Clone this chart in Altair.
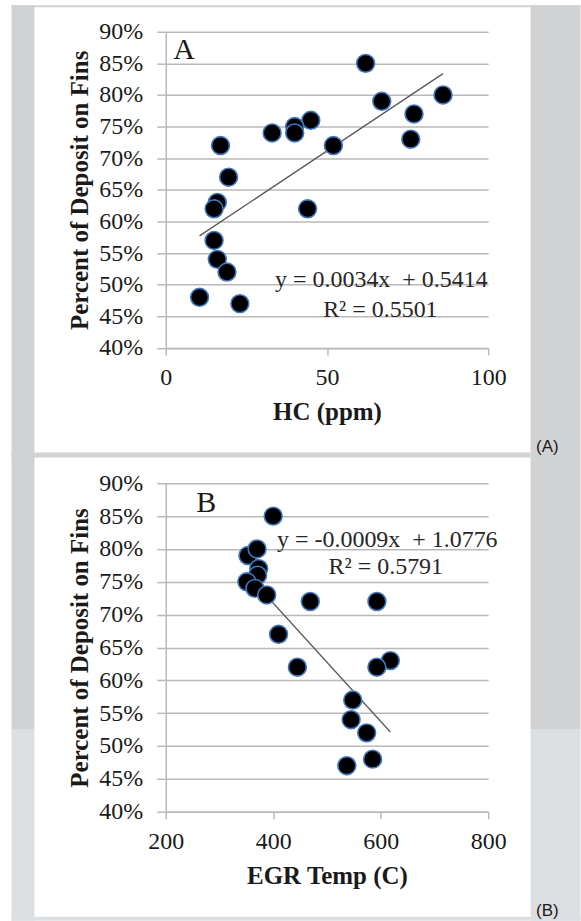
import altair as alt
import pandas as pd

# ---- data -------------------------------------------------------------
# Panel A: hydrocarbon concentration (ppm) vs share of deposit on fins
hc_ppm = [62, 67, 86, 77, 76, 52, 45, 40, 40, 33, 44, 17, 19.5, 16, 15, 15, 16, 19, 10.5, 23]
deposit_a = [0.85, 0.79, 0.80, 0.77, 0.73, 0.72, 0.76, 0.75, 0.74, 0.74,
             0.62, 0.72, 0.67, 0.63, 0.62, 0.57, 0.54, 0.52, 0.48, 0.47]

# Panel B: EGR temperature (C) vs share of deposit on fins
egr_temp = [400, 353, 370, 373, 371, 351, 366, 388, 469, 593, 410, 445, 618, 593, 548, 545, 574, 585, 537]
deposit_b = [0.85, 0.79, 0.80, 0.77, 0.76, 0.75, 0.74, 0.73, 0.72, 0.72,
             0.67, 0.62, 0.63, 0.62, 0.57, 0.54, 0.52, 0.48, 0.47]

# linear trendlines (slope, intercept) as printed on each panel
fit_a = (0.0034, 0.5414)
fit_b = (-0.0009, 1.0776)
eq_a = ["y = 0.0034x\u00a0 + 0.5414", "R\u00b2 = 0.5501"]
eq_b = ["y = -0.0009x\u00a0 + 1.0776", "R\u00b2 = 0.5791"]

pct_ticks = [0.40, 0.45, 0.50, 0.55, 0.60, 0.65, 0.70, 0.75, 0.80, 0.85, 0.90]
hc_ticks = [0, 50, 100]
temp_ticks = [200, 400, 600, 800]

# ---- styling ----------------------------------------------------------
SERIF = "Liberation Serif"
SANS = "Liberation Sans"
INK = "#1a1a1a"
GRID = "#b9b9b9"
DARK_BG = "#d1d2d4"
LIGHT_BG = "#dcdfe2"
W = 323
H_A = 316.7
H_B = 329
ORIGIN_X = 165.5
TOP_A = 30.5
TOP_B = 482.5


def y_axis():
    return alt.Axis(values=pct_ticks, format=".0%", title="Percent of Deposit on Fins",
                    grid=True, gridColor=GRID, gridWidth=1.5,
                    domainColor=GRID, domainWidth=1.5,
                    tickColor=GRID, tickWidth=1.5, tickSize=9,
                    labelFont=SERIF, labelFontSize=24, labelColor=INK, labelPadding=14,
                    titleFont=SERIF, titleFontSize=25, titleFontWeight="bold",
                    titleColor=INK, titlePadding=6)


def x_axis(title, ticks):
    return alt.Axis(values=ticks, title=title, grid=False,
                    domainColor=GRID, domainWidth=1.5,
                    tickColor=GRID, tickWidth=1.5, tickSize=7,
                    labelFont=SERIF, labelFontSize=24, labelColor=INK, labelPadding=11,
                    labelFlush=False, labelOverlap=False,
                    titleFont=SERIF, titleFontSize=25, titleFontWeight="bold",
                    titleColor=INK, titlePadding=10)


def band(x1, x2, y1, y2, color, top):
    """Page background strip, given in page pixels, drawn relative to a panel origin."""
    return alt.Chart(alt.Data(values=[{}])).mark_rect(color=color, strokeWidth=0).encode(
        x=alt.value(x1 - ORIGIN_X), x2=alt.value(x2 - ORIGIN_X),
        y=alt.value(y1 - top), y2=alt.value(y2 - top))


def label(text, x, y, top, size, font=SERIF, align="left", color=INK):
    return alt.Chart(alt.Data(values=[{}])).mark_text(
        text=text, font=font, fontSize=size, color=color, align=align,
        baseline="alphabetic").encode(x=alt.value(x - ORIGIN_X), y=alt.value(y - top))


def panel(xs, ys, fit, xfield, xtitle, xdomain, xticks, height):
    pts = pd.DataFrame({xfield: xs, "deposit": ys})
    lo, hi = min(xs), max(xs)
    trend = pd.DataFrame({xfield: [lo, hi],
                          "deposit": [fit[0] * lo + fit[1], fit[0] * hi + fit[1]]})
    xenc = alt.X(f"{xfield}:Q", scale=alt.Scale(domain=xdomain, nice=False, zero=False),
                 axis=x_axis(xtitle, xticks))
    yenc = alt.Y("deposit:Q", scale=alt.Scale(domain=[0.40, 0.90], nice=False, zero=False),
                 axis=y_axis())
    line = alt.Chart(trend).mark_line(color="#5a5a5a", strokeWidth=1.3).encode(x=xenc, y=yenc)
    dots = alt.Chart(pts).mark_circle(size=320, fill="black", stroke="#3f77c0",
                                      strokeWidth=1.6, opacity=1).encode(x=xenc, y=yenc)
    return line, dots


line_a, dots_a = panel(hc_ppm, deposit_a, fit_a, "hc", "HC (ppm)", [0, 100], hc_ticks, H_A)
line_b, dots_b = panel(egr_temp, deposit_b, fit_b, "temp", "EGR Temp (C)", [200, 800], temp_ticks, H_B)

# page frame: grey strips around the two white panels (drawn with panel A so they sit underneath)
frame = [
    band(0, 11, 0, 921, "white", TOP_A),
    band(0, 581, 0, 4, "white", TOP_A),
    band(11, 34, 4, 729, DARK_BG, TOP_A),
    band(11, 34, 729, 921, LIGHT_BG, TOP_A),
    band(11, 581, 4, 6, DARK_BG, TOP_A),
    band(11, 531, 452, 457, DARK_BG, TOP_A),
    band(531, 581, 4, 729, DARK_BG, TOP_A),
    band(531, 581, 729, 921, LIGHT_BG, TOP_A),
    band(11, 581, 917, 921, LIGHT_BG, TOP_A),
]

chart_a = alt.layer(
    *frame,
    line_a,
    dots_a,
    label("A", 173, 58.3, TOP_A, 30),
    label(eq_a[0], 381.5, 286.7, TOP_A, 24, align="center", color="#262626"),
    label(eq_a[1], 380.5, 316.7, TOP_A, 24, align="center", color="#262626"),
    label("(A)", 536.5, 451, TOP_A, 17, font=SANS),
).properties(width=W, height=H_A)

chart_b = alt.layer(
    line_b,
    dots_b,
    label("B", 196, 511.7, TOP_B, 30),
    label(eq_b[0], 387.5, 546.7, TOP_B, 24, align="center", color="#262626"),
    label(eq_b[1], 386, 573.3, TOP_B, 24, align="center", color="#262626"),
    label("(B)", 536.5, 916, TOP_B, 17, font=SANS),
).properties(width=W, height=H_B)

chart = alt.vconcat(
    chart_a, chart_b, spacing=TOP_B - TOP_A - H_A, bounds="flush"
).properties(
    padding=0, background="white"
).configure_view(stroke=None)

chart.save("out.html", embed_options={"renderer": "svg", "actions": False})
